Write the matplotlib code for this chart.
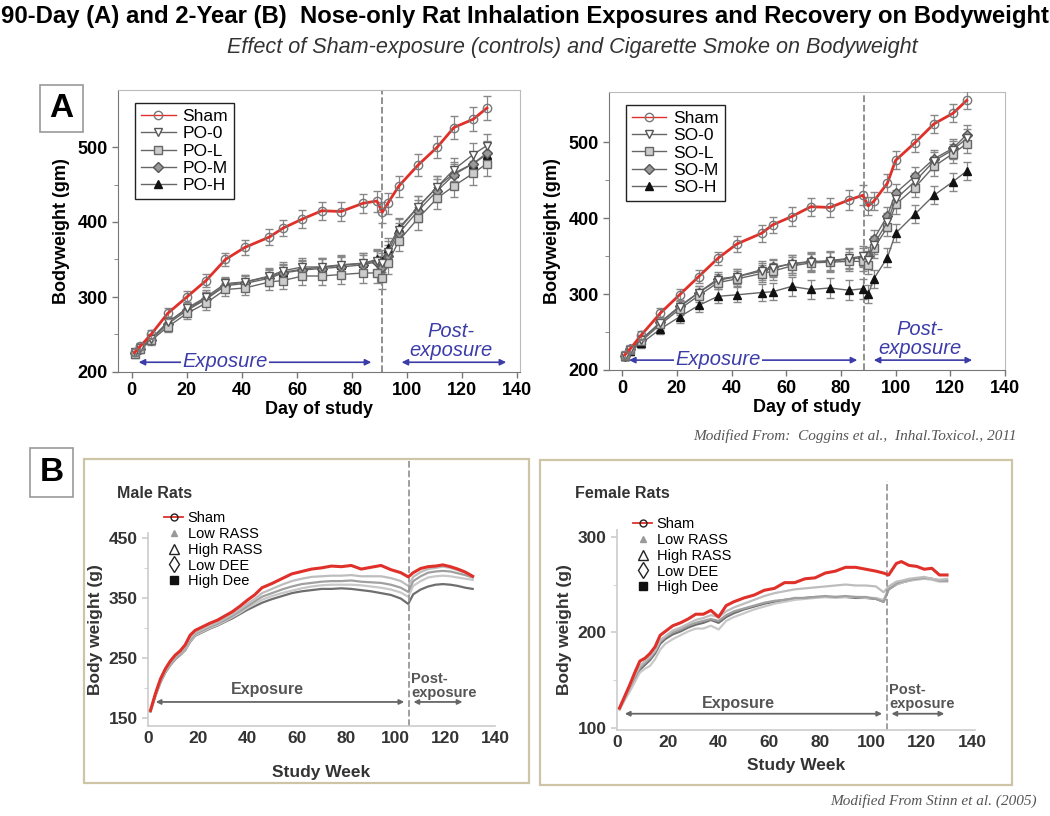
import matplotlib
matplotlib.use('Agg')
import matplotlib.pyplot as plt
from matplotlib.lines import Line2D
from matplotlib.patches import Rectangle
import numpy as np

plt.rcParams['font.family'] = ['Liberation Sans', 'DejaVu Sans']

#%% data - panel A (90-day studies, Coggins et al.)
days_po = [1, 3, 7, 13, 20, 27, 34, 41, 50, 55, 62, 69, 76, 84, 89, 91, 93, 97, 104, 111, 117, 124, 129]
po_sham = [226, 234, 250, 278, 300, 322, 350, 366, 380, 392, 404, 415, 414, 425, 428, 413, 425, 448, 476, 500, 526, 537, 552]
po_0 = [226, 232, 244, 266, 285, 300, 318, 320, 328, 335, 340, 340, 343, 345, 348, 345, 360, 390, 420, 447, 470, 490, 502]
po_l = [224, 230, 242, 260, 278, 292, 310, 312, 320, 322, 328, 328, 330, 332, 332, 325, 345, 375, 405, 432, 448, 465, 478]
po_m = [225, 231, 243, 264, 282, 297, 315, 318, 325, 332, 336, 338, 340, 343, 347, 340, 355, 385, 415, 442, 463, 478, 492]
po_h = [226, 232, 244, 266, 284, 298, 316, 320, 327, 333, 337, 340, 342, 345, 350, 348, 365, 392, 420, 447, 465, 478, 490]
po_err = [5, 5, 6, 7, 8, 9, 9, 10, 11, 11, 12, 12, 13, 13, 14, 14, 14, 14, 15, 15, 15, 16, 16]

days_so = [1, 3, 7, 14, 21, 28, 35, 42, 51, 55, 62, 69, 76, 83, 88, 90, 92, 97, 100, 107, 114, 121, 126]
so_sham = [220, 228, 246, 275, 299, 323, 347, 366, 380, 391, 402, 415, 414, 424, 430, 416, 422, 446, 476, 499, 524, 538, 555]
so_0 = [218, 226, 240, 262, 283, 302, 318, 323, 330, 334, 340, 342, 344, 347, 350, 345, 365, 395, 425, 448, 475, 490, 505]
so_l = [219, 226, 238, 260, 280, 298, 315, 320, 327, 330, 337, 341, 342, 343, 343, 338, 360, 388, 418, 440, 468, 485, 498]
so_m = [218, 227, 240, 263, 284, 302, 320, 323, 332, 335, 340, 343, 343, 346, 348, 350, 372, 403, 433, 455, 478, 492, 510]
so_h = [218, 225, 235, 254, 270, 285, 297, 299, 302, 303, 310, 306, 308, 305, 307, 300, 320, 348, 380, 405, 430, 448, 462]
so_err = [5, 5, 6, 7, 8, 9, 9, 10, 11, 11, 12, 12, 13, 13, 13, 12, 12, 12, 12, 12, 12, 12, 12]

labels_po = ['Sham', 'PO-0', 'PO-L', 'PO-M', 'PO-H']
labels_so = ['Sham', 'SO-0', 'SO-L', 'SO-M', 'SO-H']

#%% data - panel B (2-year studies, Stinn et al.)
weeks_m = [1, 3, 5, 7, 9, 11, 13, 15, 17, 19, 22, 25, 28, 31, 34, 37, 40, 43, 46, 50, 54, 58, 62, 66, 70, 74, 78, 82,
           86, 90, 94, 98, 102, 105, 107, 110, 113, 116, 119, 122, 125, 128, 131]
m_sham = [163, 191, 215, 232, 245, 255, 262, 272, 288, 296, 302, 308, 313, 320, 327, 336, 346, 355, 367, 374, 382, 390,
          394, 398, 400, 403, 402, 404, 398, 401, 404, 397, 392, 385, 392, 399, 402, 403, 405, 402, 398, 393, 386]
m_low_rass = [162, 189, 212, 229, 242, 252, 259, 268, 283, 292, 298, 304, 309, 316, 323, 331, 340, 348, 358, 365, 372,
              378, 382, 385, 386, 387, 387, 388, 386, 386, 386, 383, 378, 370, 385, 393, 398, 400, 402, 400, 396, 392, 386]
m_high_rass = [162, 188, 211, 228, 240, 250, 257, 266, 280, 290, 296, 302, 307, 313, 320, 328, 336, 344, 352, 358, 364,
               369, 373, 375, 377, 378, 378, 379, 377, 376, 375, 372, 367, 360, 378, 386, 392, 394, 395, 394, 391, 388, 384]
m_low_dee = [162, 188, 210, 227, 239, 249, 256, 264, 278, 288, 294, 300, 305, 311, 318, 325, 333, 340, 347, 353, 358,
             362, 366, 369, 371, 372, 372, 372, 371, 369, 367, 364, 359, 352, 370, 378, 384, 386, 387, 386, 384, 382, 380]
m_high_dee = [161, 187, 209, 226, 238, 248, 255, 263, 277, 287, 293, 299, 304, 310, 316, 323, 330, 336, 342, 348, 353,
              358, 361, 363, 365, 365, 366, 365, 363, 361, 358, 355, 349, 340, 356, 364, 369, 372, 373, 372, 370, 367, 365]

weeks_f = [1, 3, 5, 7, 9, 11, 13, 15, 17, 19, 22, 25, 28, 31, 34, 37, 40, 43, 46, 50, 54, 58, 62, 66, 70, 74, 78, 82,
           86, 90, 94, 98, 102, 105, 107, 110, 112, 115, 118, 121, 124, 127, 130]
f_sham = [121, 133, 145, 158, 170, 173, 178, 185, 197, 201, 207, 210, 214, 219, 219, 223, 216, 228, 232, 236, 239, 244,
          246, 252, 252, 256, 257, 262, 264, 268, 268, 266, 264, 262, 260, 272, 274, 270, 269, 266, 267, 260, 260]
f_low_rass = [120, 132, 143, 155, 165, 170, 175, 181, 192, 196, 202, 205, 209, 213, 215, 218, 216, 222, 226, 230, 234,
              238, 241, 243, 245, 246, 247, 248, 249, 250, 249, 249, 248, 242, 248, 253, 254, 256, 257, 258, 256, 255, 256]
f_high_rass = [120, 131, 142, 153, 163, 168, 173, 180, 190, 195, 200, 203, 207, 210, 212, 214, 212, 218, 222, 225, 228,
               231, 233, 234, 236, 236, 237, 238, 237, 238, 237, 237, 235, 232, 245, 251, 253, 255, 256, 257, 256, 254, 254]
f_low_dee = [119, 129, 138, 148, 158, 162, 165, 172, 182, 188, 193, 197, 201, 204, 204, 207, 203, 212, 216, 220, 224,
             227, 230, 232, 234, 235, 236, 237, 236, 237, 237, 236, 236, 234, 246, 250, 252, 254, 255, 256, 255, 253, 253]
f_high_dee = [120, 130, 141, 151, 161, 166, 171, 178, 188, 193, 198, 201, 205, 208, 210, 213, 210, 216, 220, 224, 227,
              230, 232, 234, 235, 236, 237, 237, 237, 237, 236, 236, 235, 232, 245, 250, 252, 254, 256, 257, 256, 254, 254]

labels_b = ['Sham', 'Low RASS', 'High RASS', 'Low DEE', 'High Dee']

#%% layout helpers
W, H = 1050, 816
fig = plt.figure(figsize=(W / 100, H / 100), dpi=100)


def rect(l, t, r, b):
    return [l / W, 1 - b / H, (r - l) / W, (b - t) / H]


def fx(x):
    return x / W


def fy(y):
    return 1 - y / H


RED = '#e0302a'
BLUE = '#3c3ca8'

fig.text(fx(525), fy(17), '90-Day (A) and 2-Year (B)  Nose-only Rat Inhalation Exposures and Recovery on Bodyweight',
         ha='center', va='center', fontsize=17.2, fontweight='bold')
fig.text(fx(572), fy(47), 'Effect of Sham-exposure (controls) and Cigarette Smoke on Bodyweight',
         ha='center', va='center', fontsize=15.6, style='italic', color='#333333')


def label_box(x0, y0, x1, y1, letter):
    fig.patches.append(Rectangle((fx(x0), fy(y1)), fx(x1 - x0), (y1 - y0) / H, transform=fig.transFigure,
                                 fill=False, edgecolor='#999999', lw=1.2))
    fig.text(fx((x0 + x1) / 2), fy((y0 + y1) / 2), letter, ha='center', va='center', fontsize=24, fontweight='bold')


label_box(40, 85, 83, 132, 'A')
label_box(30, 448, 73, 497, 'B')

A_STYLES = [dict(marker='o', mfc='none', mec='#777777'),
            dict(marker='v', mfc='white', mec='#555555'),
            dict(marker='s', mfc='#cccccc', mec='#666666'),
            dict(marker='D', mfc='#999999', mec='#555555', ms=5),
            dict(marker='^', mfc='#111111', mec='#111111')]


#%% panel A
def panel_a(r, days, series, labels, err, xlim, ylim, vline, exp_x, exp_end, post_x):
    ax = fig.add_axes(rect(*r))
    handles = []
    for i in range(4, -1, -1):
        st = dict(ms=6, mew=1.0)
        st.update(A_STYLES[i])
        col = RED if i == 0 else '#666666'
        lw = 2.0 if i == 0 else 1.0
        ax.errorbar(days, series[i], yerr=err, color=col, lw=lw, ecolor='#888888',
                    elinewidth=0.9, capsize=3, capthick=0.9, zorder=5 if i == 0 else 3, **st)
        handles.insert(0, Line2D([], [], color=col, lw=1.0, **st))
    leg = ax.legend(handles, labels, loc='upper left', bbox_to_anchor=(0.02, 0.985), fontsize=12.5,
                    fancybox=False, edgecolor='#222222', framealpha=1, handlelength=2.0,
                    labelspacing=0.12, borderpad=0.35, handletextpad=0.4)
    leg.get_frame().set_linewidth(1.0)
    ax.set_xlim(*xlim)
    ax.set_ylim(*ylim)
    ax.set_xticks(range(0, 141, 20))
    ax.set_yticks([200, 300, 400, 500])
    ax.set_yticks([250, 350, 450], minor=True)
    for s in ['top', 'right']:
        ax.spines[s].set_color('#bbbbbb')
    for s in ['left', 'bottom']:
        ax.spines[s].set_color('#777777')
    ax.tick_params(labelsize=13, color='#777777', length=4, width=1)
    ax.tick_params(which='minor', length=3, color='#777777')
    for t in ax.get_xticklabels() + ax.get_yticklabels():
        t.set_fontweight('bold')
    ax.set_xlabel('Day of study', fontsize=13, fontweight='bold', labelpad=1)
    ax.set_ylabel('Bodyweight (gm)', fontsize=13, fontweight='bold', labelpad=5)
    ax.axvline(vline, color='#888888', ls='--', lw=1.3, zorder=1)
    # exposure arrows
    ax.annotate('', xy=(1.5, 213), xytext=(exp_end, 213),
                arrowprops=dict(arrowstyle='<|-|>', color=BLUE, lw=1.2, mutation_scale=9))
    ax.text(exp_x, 214, 'Exposure', ha='center', va='center', fontsize=14.5, style='italic', color=BLUE,
            bbox=dict(facecolor='white', edgecolor='none', pad=1))
    ax.annotate('', xy=(post_x[0], 213), xytext=(post_x[1], 213),
                arrowprops=dict(arrowstyle='<|-|>', color=BLUE, lw=1.2, mutation_scale=9))
    ax.text((post_x[0] + post_x[1]) / 2 - 1, 241, 'Post-\nexposure', ha='center', va='center', fontsize=14.5,
            style='italic', color=BLUE, linespacing=1.0)
    return ax


panel_a((118, 90, 520, 372), days_po, [po_sham, po_0, po_l, po_m, po_h], labels_po, po_err,
        (-5, 141), (200, 576), 91, 34, 88, (97, 137))
panel_a((609, 92, 1005, 370), days_so, [so_sham, so_0, so_l, so_m, so_h], labels_so, so_err,
        (-4.8, 140), (200, 566), 88.5, 35, 87, (91, 129))

fig.text(fx(1017), fy(436), 'Modified From:  Coggins et al.,  Inhal.Toxicol., 2011', ha='right', va='center',
         fontsize=11, style='italic', color='#555555', family=['Liberation Serif', 'DejaVu Serif'])
fig.text(fx(1037), fy(801), 'Modified From Stinn et al. (2005)', ha='right', va='center',
         fontsize=11, style='italic', color='#555555', family=['Liberation Serif', 'DejaVu Serif'])


#%% panel B
def panel_b(frame, r, weeks, series, title, title_xy, leg_xy, xlim, ylim, major, minor, vline, vtop,
            exp_y, exp_txt_y, post_end, post_txt_y, xpad):
    fig.patches.append(Rectangle((fx(frame[0]), fy(frame[3])), fx(frame[2] - frame[0]), (frame[3] - frame[1]) / H,
                                 transform=fig.transFigure, fill=False, edgecolor='#cdc5a5', lw=1.6))
    ax = fig.add_axes(rect(*r))
    ax.patch.set_alpha(0)
    cols = ['#bdbdbd', '#a0a0a0', '#c8c8c8', '#6e6e6e']
    for i in range(4, 0, -1):
        ax.plot(weeks, series[i], color=cols[i - 1], lw=1.6)
    ax.plot(weeks, series[0], color=RED, lw=2.2, zorder=5)
    ax.set_xlim(*xlim)
    ax.set_ylim(*ylim)
    ax.set_xticks(range(0, 141, 20))
    ax.set_yticks(major)
    ax.set_yticks(minor, minor=True)
    for s in ['top', 'right']:
        ax.spines[s].set_visible(False)
    for s in ['left', 'bottom']:
        ax.spines[s].set_color('#cccccc')
        ax.spines[s].set_linewidth(1.2)
    ax.tick_params(labelsize=12.5, color='#cccccc', length=4, width=1.2)
    ax.tick_params(axis='x', length=0)
    ax.tick_params(which='minor', length=3, color='#cccccc')
    for t in ax.get_xticklabels() + ax.get_yticklabels():
        t.set_fontweight('bold')
        t.set_color('#333333')
    ax.set_xlabel('Study Week', fontsize=12.5, fontweight='bold', color='#333333', labelpad=xpad)
    ax.set_ylabel('Body weight (g)', fontsize=12.5, fontweight='bold', color='#333333')
    ax.plot([vline, vline], [ylim[0], vtop], color='#999999', ls='--', lw=1.3, clip_on=False)
    ax.annotate('', xy=(2, exp_y), xytext=(vline - 1, exp_y),
                arrowprops=dict(arrowstyle='<|-|>', color='#666666', lw=1.3, mutation_scale=7))
    ax.text(48, exp_txt_y, 'Exposure', ha='center', va='center', fontsize=11.5, fontweight='bold', color='#555555')
    ax.annotate('', xy=(vline + 0.5, exp_y), xytext=(post_end, exp_y),
                arrowprops=dict(arrowstyle='<|-|>', color='#666666', lw=1.3, mutation_scale=7))
    ax.text(vline + 0.8, post_txt_y, 'Post-\nexposure', ha='left', va='center', fontsize=10.5, fontweight='bold',
            color='#555555', linespacing=1.0)
    fig.text(fx(title_xy[0]), fy(title_xy[1]), title, ha='left', va='center', fontsize=11.5, fontweight='bold',
             color='#333333')
    handles = [Line2D([], [], color=RED, lw=1.3, marker='o', mfc='none', mec='#222222', ms=5),
               Line2D([], [], ls='none', marker='^', color='#999999', ms=5),
               Line2D([], [], ls='none', marker='^', mfc='white', mec='#222222', ms=7),
               Line2D([], [], ls='none', marker='d', mfc='white', mec='#222222', ms=8, mew=1),
               Line2D([], [], ls='none', marker='s', color='#111111', ms=6)]
    ax.legend(handles, labels_b, loc='upper left', bbox_to_anchor=(fx(leg_xy[0]), fy(leg_xy[1])),
              bbox_transform=fig.transFigure, frameon=False, fontsize=10.5, handlelength=1.3,
              labelspacing=0.12, handletextpad=0.3, borderpad=0)
    return ax


panel_b((84, 459, 529, 783), (148, 533, 495, 726), weeks_m,
        [m_sham, m_low_rass, m_high_rass, m_low_dee, m_high_dee], 'Male Rats', (117, 494), (157, 504),
        (0, 140), (137, 458), [150, 250, 350, 450], [200, 300, 400], 105.5, 580, 177, 198, 128, 203, 14)
panel_b((540, 460, 1012, 785), (617, 530, 975, 730), weeks_f,
        [f_sham, f_low_rass, f_high_rass, f_low_dee, f_high_dee], 'Female Rats', (575, 494), (626, 510),
        (0, 141), (98, 307), [100, 200, 300], [150, 250], 106.5, 358, 115, 126, 130, 132, 6)

plt.savefig('out.png', dpi=100)
